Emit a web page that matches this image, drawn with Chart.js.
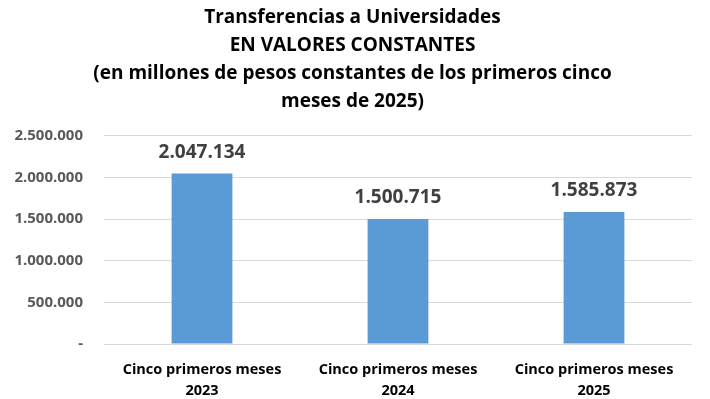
<!DOCTYPE html>
<html>
<head>
<meta charset="utf-8">
<script src="https://cdn.jsdelivr.net/npm/chart.js@4/dist/chart.umd.min.js"></script>
<style>
html,body{margin:0;padding:0;background:#fff;}
#wrap{width:710px;height:399px;}
</style>
</head>
<body>
<div id="wrap"><canvas id="c" width="710" height="399"></canvas></div>
<script>
const categories = [["Cinco primeros meses","2023"],["Cinco primeros meses","2024"],["Cinco primeros meses","2025"]];
const values = [2047134, 1500715, 1585873];
const titleLines = ["Transferencias a Universidades","EN VALORES CONSTANTES","(en millones de pesos constantes de los primeros cinco","meses de 2025)"];
const yTicks = [0, 500000, 1000000, 1500000, 2000000, 2500000];

function fmt(v){
  if (v === 0) return "-";
  return String(v).replace(/\B(?=(\d{3})+(?!\d))/g, ".");
}

const FONT = "'Open Sans', 'Liberation Sans', sans-serif";

const labelPlugin = {
  id: 'barLabels',
  afterDatasetsDraw(chart){
    const ctx = chart.ctx;
    const meta = chart.getDatasetMeta(0);
    ctx.save();
    ctx.font = "bold 19px " + FONT;
    ctx.fillStyle = "#404040";
    ctx.textAlign = "center";
    ctx.textBaseline = "middle";
    meta.data.forEach((bar, i) => {
      ctx.fillText(fmt(values[i]), bar.x, bar.y - 21);
    });
    ctx.restore();
  }
};

new Chart(document.getElementById('c'), {
  type: 'bar',
  data: {
    labels: categories,
    datasets: [{
      data: values,
      backgroundColor: '#5B9BD5',
      borderWidth: 0,
      categoryPercentage: 1.0,
      barPercentage: 0.31
    }]
  },
  options: {
    responsive: false,
    animation: false,
    layout: { padding: { left: 13, right: 18, top: 4, bottom: 0 } },
    plugins: {
      legend: { display: false },
      tooltip: { enabled: false },
      title: {
        display: true,
        text: titleLines,
        color: '#000',
        font: { family: FONT, size: 19, weight: 'bold', lineHeight: 1.47 },
        padding: { top: 0, bottom: 20 }
      }
    },
    scales: {
      x: {
        grid: { display: false },
        border: { display: false },
        afterFit(scale){ scale.height = 55; },
        ticks: {
          color: '#000',
          font: { family: FONT, size: 14.5, weight: 'bold', lineHeight: 1.45 },
          padding: 7,
          maxRotation: 0
        }
      },
      y: {
        min: 0,
        max: 2500000,
        afterBuildTicks(scale){ scale.ticks = yTicks.map(v => ({value: v})); },
        afterFit(scale){ scale.width = 91; },
        grid: { color: '#d9d9d9', lineWidth: 1, drawTicks: false },
        border: { display: false },
        ticks: {
          color: '#595959',
          font: { family: FONT, size: 15, weight: 'bold' },
          padding: 21,
          callback: (v) => fmt(v)
        }
      }
    }
  },
  plugins: [labelPlugin]
});
</script>
</body>
</html>
